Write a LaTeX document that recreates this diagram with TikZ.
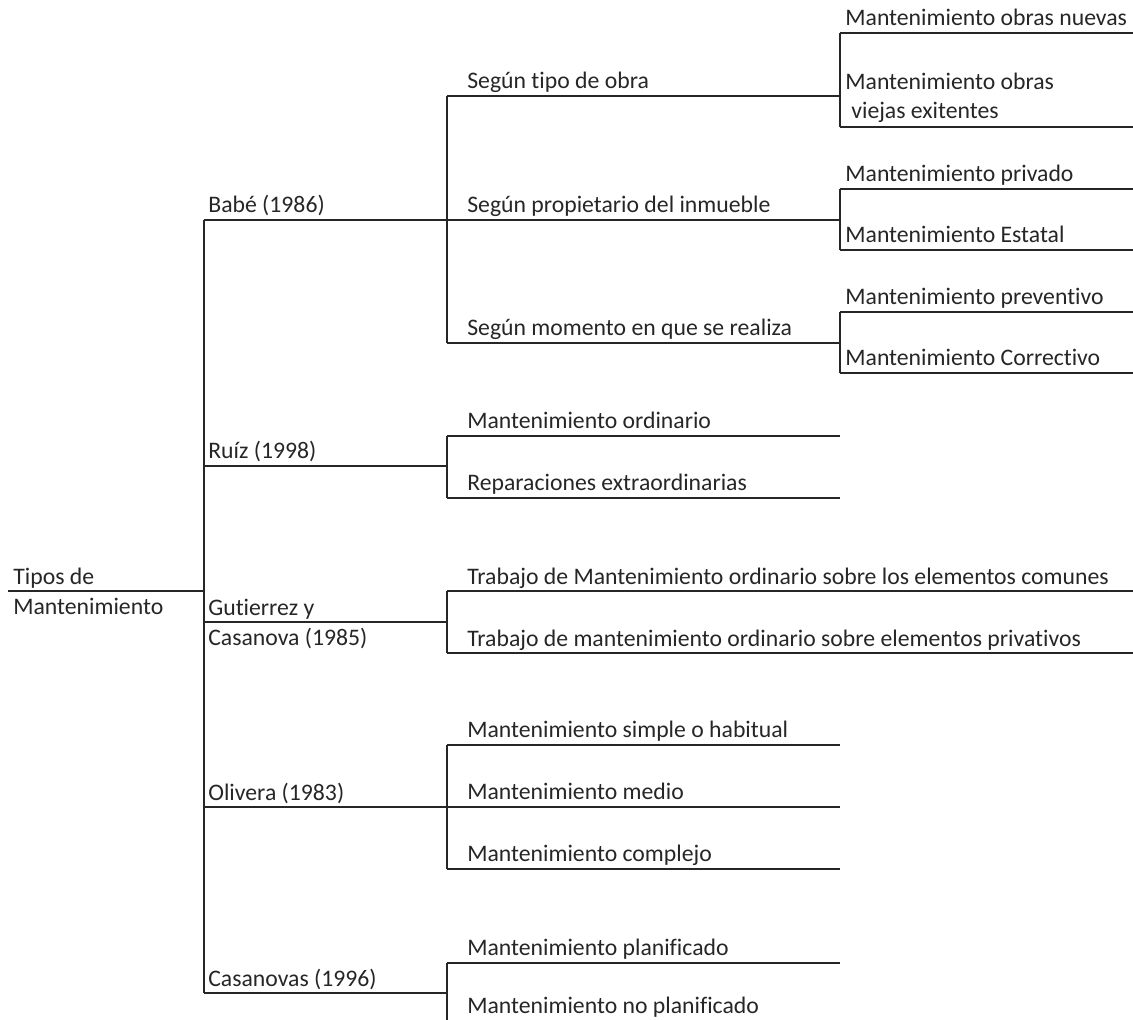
\documentclass[tikz,border=0pt]{standalone}
\usepackage{fontspec}
\setmainfont{Carlito}[Ligatures=NoCommon]
\usetikzlibrary{positioning}
\tikzset{
  linea/.style={line width=1.1pt,draw=black!85},
  etiq/.style={anchor=base west,inner sep=0pt,text=black!85,font=\fontsize{13.5}{16}\selectfont}
}
\newcommand{\trazo}[4]{\coordinate (#1) at (#2,#4); \coordinate (#1-e) at (#3,#4); \draw[linea] (#1) -- (#1-e);}
\newcommand{\rotulo}[4]{\node[etiq] (#1) at (#2,#3) {#4};}

\begin{document}
\begin{tikzpicture}[x=0.02cm,y=-0.02cm]
\useasboundingbox (0,0) rectangle (1133,1020);
% raiz
\trazo{raiz}{8}{204}{591}
\rotulo{raiz-t1}{13}{584}{Tipos de}
\rotulo{raiz-t2}{13}{614}{Mantenimiento}
% autores
\trazo{babe}{204}{447}{220}
\trazo{ruiz}{204}{447}{466}
\trazo{gutierrez}{204}{447}{622}
\trazo{olivera}{204}{447}{807}
\trazo{casanovas}{204}{447}{993}
\draw[linea] (babe) -- (casanovas);
\draw[linea] (raiz-e) -- (gutierrez);
\rotulo{babe-t}{208}{213}{Babé (1986)}
\rotulo{ruiz-t}{208}{459}{Ruíz (1998)}
\rotulo{gutierrez-t1}{208}{615}{Gutierrez y}
\rotulo{gutierrez-t2}{208}{645}{Casanova (1985)}
\rotulo{olivera-t}{208}{800}{Olivera (1983)}
\rotulo{casanovas-t}{208}{986}{Casanovas (1996)}
% Babé
\trazo{tipo}{447}{840}{96}
\trazo{propietario}{447}{840}{220}
\trazo{momento}{447}{840}{343}
\draw[linea] (tipo) -- (momento);
\rotulo{tipo-t}{467}{89}{Según tipo de obra}
\rotulo{propietario-t}{467}{213}{Según propietario del inmueble}
\rotulo{momento-t}{467}{336}{Según momento en que se realiza}
\trazo{nuevas}{840}{1135}{33}
\trazo{viejas}{840}{1135}{127}
\draw[linea] (nuevas) -- (viejas);
\rotulo{nuevas-t}{845}{26}{Mantenimiento obras nuevas}
\rotulo{viejas-t1}{845}{90}{Mantenimiento obras}
\rotulo{viejas-t2}{851}{119}{viejas exitentes}
\trazo{privado}{840}{1135}{189}
\trazo{estatal}{840}{1135}{250}
\draw[linea] (privado) -- (estatal);
\rotulo{privado-t}{845}{182}{Mantenimiento privado}
\rotulo{estatal-t}{845}{243}{Mantenimiento Estatal}
\trazo{preventivo}{840}{1135}{312}
\trazo{correctivo}{840}{1135}{373}
\draw[linea] (preventivo) -- (correctivo);
\rotulo{preventivo-t}{845}{305}{Mantenimiento preventivo}
\rotulo{correctivo-t}{845}{366}{Mantenimiento Correctivo}
% Ruíz
\trazo{ordinario}{447}{840}{436}
\trazo{extra}{447}{840}{498}
\draw[linea] (ordinario) -- (extra);
\rotulo{ordinario-t}{467}{429}{Mantenimiento ordinario}
\rotulo{extra-t}{467}{491}{Reparaciones extraordinarias}
% Gutierrez y Casanova
\trazo{comunes}{447}{1135}{591}
\trazo{privativos}{447}{1135}{653}
\draw[linea] (comunes) -- (privativos);
\rotulo{comunes-t}{467}{584}{Trabajo de Mantenimiento ordinario sobre los elementos comunes}
\rotulo{privativos-t}{467}{646}{Trabajo de mantenimiento ordinario sobre elementos privativos}
% Olivera
\trazo{simple}{447}{840}{745}
\trazo{medio}{447}{840}{807}
\trazo{complejo}{447}{840}{869}
\draw[linea] (simple) -- (complejo);
\rotulo{simple-t}{467}{737}{Mantenimiento simple o habitual}
\rotulo{medio-t}{467}{799}{Mantenimiento medio}
\rotulo{complejo-t}{467}{861}{Mantenimiento complejo}
% Casanovas
\trazo{planif}{447}{840}{963}
\trazo{noplanif}{447}{840}{1026}
\draw[linea] (planif) -- (noplanif);
\rotulo{planif-t}{467}{955}{Mantenimiento planificado}
\rotulo{noplanif-t}{467}{1013}{Mantenimiento no planificado}
\end{tikzpicture}
\end{document}
